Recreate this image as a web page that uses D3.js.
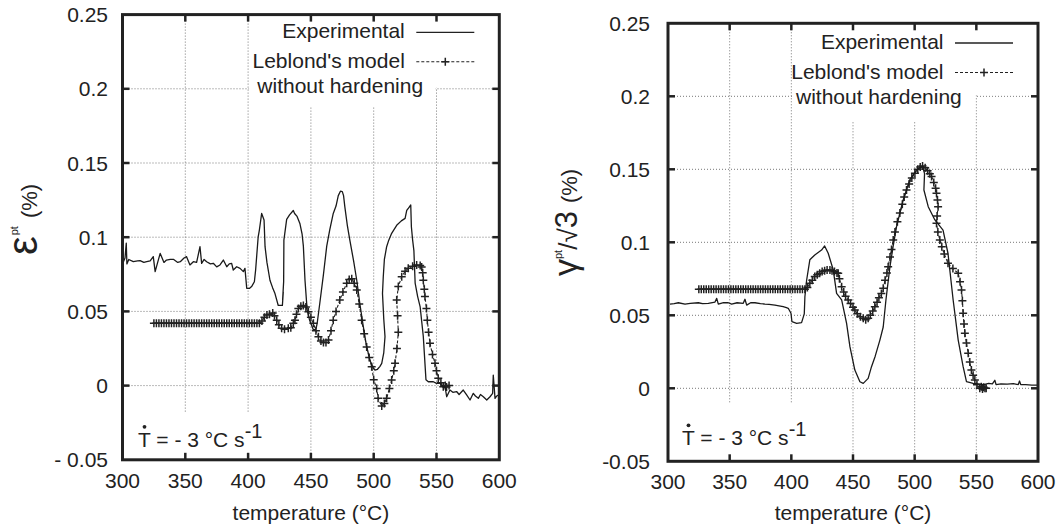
<!DOCTYPE html>
<html>
<head>
<meta charset="utf-8">
<script src="https://cdn.jsdelivr.net/npm/d3@7"></script>
<style>
  body { margin: 0; background: #fff; }
  svg text { font-family: "Liberation Sans", Arial, Helvetica, sans-serif; fill: #222; }
  .grid line { stroke: #777; stroke-width: 1; stroke-dasharray: 1,2; }
</style>
</head>
<body>
<svg id="chart" width="1062" height="529"></svg>
<script>
const xTicks = [300, 350, 400, 450, 500, 550, 600];
const yTicks = [-0.05, 0, 0.05, 0.1, 0.15, 0.2, 0.25];
const leftYLabels = ["- 0.05", "0", "0.05", "0.1", "0.15", "0.2", "0.25"];
const rightYLabels = ["-0.05", "0", "0.05", "0.1", "0.15", "0.2", "0.25"];
const legendLabels = ["Experimental", "Leblond's model", "without hardening"];
const xTitle = "temperature (\u00B0C)";

// [temperature, value]
const leftExperimental = [
  [300.5,0.083],[302,0.086],[303,0.096],[303.5,0.082],[305,0.085],[308.6,0.0835],[312,0.084],[314,0.0842],
  [317,0.083],[319.3,0.0835],[322,0.084],[324.5,0.0869],[326,0.0768],[328,0.083],[330,0.0891],[333,0.083],
  [335,0.0846],[338,0.085],[340.5,0.0851],[344,0.083],[346,0.0835],[349,0.086],[351,0.0869],[353.7,0.0813],
  [356.4,0.0835],[359,0.083],[361.7,0.0936],[363,0.0824],[365,0.085],[367,0.0835],[370,0.082],[372.3,0.0824],
  [375,0.08],[377.6,0.0813],[380.3,0.0846],[383,0.0801],[385,0.082],[386.9,0.0824],[388.2,0.0779],[390.9,0.0801],
  [393.6,0.079],[396.2,0.0768],[397.5,0.079],[398.9,0.0656],[401,0.0655],[403,0.067],[405,0.07],[406,0.078],
  [408,0.1],[409,0.105],[410.8,0.116],[412.7,0.1116],[413.5,0.0936],[415,0.083],[417.4,0.071],[419.5,0.066],
  [421.4,0.062],[424,0.054],[427.3,0.054],[428,0.063],[427.5,0.058],[428.3,0.07],[428.5,0.098],[430.7,0.112],
  [433,0.115],[436,0.118],[437,0.116],[439,0.114],[441.3,0.109],[443,0.102],[444,0.094],[445.3,0.071],
  [447,0.051],[449,0.044],[452,0.0375],[454,0.038],[455,0.042],[457,0.055],[460,0.075],[462.6,0.094],
  [465,0.105],[467.8,0.116],[470,0.121],[471.8,0.128],[473.5,0.131],[475,0.1307],[476,0.128],[477,0.1206],
  [479,0.108],[481,0.098],[484,0.084],[486.5,0.071],[489,0.055],[491.7,0.04],[494,0.028],[497,0.017],
  [499.5,0.012],[501,0.0105],[503,0.011],[505,0.013],[506.4,0.015],[508,0.022],[509,0.033],[508,0.045],
  [507,0.062],[507.6,0.073],[508.5,0.085],[510.3,0.0936],[512,0.098],[514.3,0.1026],[518.3,0.108],[522,0.111],
  [525,0.1127],[526.3,0.118],[528,0.12],[529.5,0.1217],[530,0.107],[531,0.098],[532,0.091],[533,0.069],
  [535,0.06],[537,0.053],[539.5,0.033],[541.6,0.004],[543.5,0.0026],[547.5,0.0026],[550,0.0015],[552.8,0.0015],
  [555.4,-0.001],[556.8,-0.0007],[558.1,-0.0075],[560.7,-0.003],[563,-0.0045],[566,-0.004],[568,-0.006],[571.3,-0.003],
  [574,-0.0063],[576.7,-0.0097],[579.3,-0.0052],[581,-0.007],[583.3,-0.0086],[585,-0.006],[587.3,-0.0075],[590,-0.0097],
  [592.6,-0.0075],[594.7,-0.0052],[595.2,0.0071],[596.6,-0.0086],[598,-0.007],[600,-0.006]
];

const leftModel = [
  [325,0.042],[327,0.042],[329,0.042],[331,0.042],[333,0.042],[335,0.042],[337,0.042],[339,0.042],
  [341,0.042],[343,0.042],[345,0.042],[347,0.042],[349,0.042],[351,0.042],[353,0.042],[355,0.042],
  [357,0.042],[359,0.042],[361,0.042],[363,0.042],[365,0.042],[367,0.042],[369,0.042],[371,0.042],
  [373,0.042],[375,0.042],[377,0.042],[379,0.042],[381,0.042],[383,0.042],[385,0.042],[387,0.042],
  [389,0.042],[391,0.042],[393,0.042],[395,0.042],[397,0.042],[399,0.042],[401,0.042],[403,0.042],
  [405,0.042],[407,0.042],[409,0.042],[411,0.0435],[413,0.046],[415,0.0476],[417,0.048],[419.6,0.049],
  [421,0.047],[422.8,0.044],[424.5,0.041],[426.7,0.0386],[429,0.038],[432,0.0386],[434,0.039],[436,0.042],
  [437.3,0.044],[438.5,0.048],[440,0.052],[442,0.0535],[444,0.054],[446,0.053],[448,0.0498],[450,0.046],
  [452,0.042],[454,0.037],[456,0.033],[458,0.03],[460,0.029],[462,0.029],[464,0.0307],[466,0.037],
  [467.8,0.044],[470,0.05],[473,0.0577],[475.5,0.063],[478.5,0.069],[480.5,0.0715],[482.5,0.072],[484.5,0.069],
  [486.5,0.0644],[488.5,0.055],[490.4,0.044],[492.4,0.035],[494.4,0.026],[496.4,0.019],[498.4,0.0127],[500,0.004],
  [502.4,-0.002],[503.5,-0.0086],[506.4,-0.0137],[508.5,-0.012],[510.3,-0.0086],[512.5,-0.002],[514.3,0.0038],[516,0.01],
  [517,0.015],[518.5,0.025],[519.6,0.036],[519,0.047],[518.3,0.0577],[519.6,0.0667],[522.3,0.0734],[525,0.077],
  [527.5,0.079],[531,0.0805],[534.2,0.0813],[537,0.081],[538.2,0.08],[539,0.076],[539.5,0.071],[540.3,0.065],
  [540.8,0.06],[542,0.052],[542.7,0.044],[543.7,0.036],[544.8,0.0285],[546.8,0.021],[548.8,0.015],[550,0.01],
  [551.4,0.005],[553.5,0.002],[555.4,-0.0007],[557,0],[558,-0.001],[560,0]
];

const rightExperimental = [
  [301.6,0.0577],[305,0.058],[308.4,0.0586],[313.8,0.0577],[318,0.0582],[324.6,0.0586],[328,0.058],[332.7,0.0582],
  [338.1,0.0591],[339.5,0.0616],[340.8,0.0577],[345,0.0586],[348.9,0.0586],[351.6,0.0577],[356,0.0586],[361,0.0582],
  [362.4,0.061],[363.8,0.057],[367,0.0586],[370.5,0.0586],[375,0.058],[378.6,0.0577],[382,0.0575],[386.7,0.057],
  [390,0.0565],[393.4,0.0559],[396,0.0552],[397.5,0.0548],[399.7,0.0514],[400.5,0.0456],[404.3,0.0445],[408.3,0.045],
  [410.5,0.051],[411,0.0627],[412.4,0.074],[415,0.088],[419,0.0913],[424.5,0.0947],[427,0.0975],[429.9,0.0925],
  [434,0.081],[436.7,0.065],[440.8,0.0605],[444.8,0.0445],[447.5,0.0285],[451.5,0.0125],[455.6,0.0045],[458.3,0.0034],
  [462.3,0.0068],[465,0.0148],[468,0.022],[471.8,0.033],[474.5,0.042],[476.7,0.0605],[479.9,0.083],[482.5,0.097],
  [485.3,0.1107],[490.7,0.129],[496,0.1427],[501.5,0.1495],[506.4,0.1523],[508,0.147],[507.5,0.1358],[511,0.1244],
  [516.4,0.1153],[523,0.1084],[527,0.0925],[531.2,0.0605],[535.3,0.033],[539.3,0.0148],[542,0.0045],[547.4,0.0034],
  [552,0.003],[556,0.0025],[560,0.0034],[563,0.003],[565,0.0055],[566,0.0025],[570,0.003],[575,0.0028],
  [580,0.0032],[584,0.0025],[585,0.005],[586,0.0025],[590,0.0025],[595,0.0022],[600,0.0022]
];

const rightModel = [
  [325,0.0678],[327,0.0678],[329,0.0678],[331,0.0678],[333,0.0678],[335,0.0678],[337,0.0678],[339,0.0678],
  [341,0.0678],[343,0.0678],[345,0.0678],[347,0.0678],[349,0.0678],[351,0.0678],[353,0.0678],[355,0.0678],
  [357,0.0678],[359,0.0678],[361,0.0678],[363,0.0678],[365,0.0678],[367,0.0678],[369,0.0678],[371,0.0678],
  [373,0.0678],[375,0.0678],[377,0.0678],[379,0.0678],[381,0.0678],[383,0.0678],[385,0.0678],[387,0.0678],
  [389,0.0678],[391,0.0678],[393,0.0678],[395,0.0678],[397,0.0678],[399,0.0678],[401,0.0678],[403,0.0678],
  [405,0.0678],[407,0.0678],[409,0.0678],[411,0.0678],[413,0.069],[415,0.072],[417,0.074],[419,0.0765],
  [421,0.0778],[423,0.0788],[425,0.08],[427,0.0805],[429,0.081],[431.3,0.081],[433,0.0805],[435,0.08],
  [437,0.079],[438,0.0788],[439,0.075],[440.8,0.0696],[442.5,0.066],[444,0.063],[446.1,0.0605],[448,0.058],
  [450,0.0555],[451.5,0.0536],[453.5,0.051],[456,0.049],[458.3,0.048],[460.3,0.047],[462.3,0.048],[464,0.05],
  [466,0.053],[467.7,0.0559],[469.5,0.059],[471,0.062],[473,0.065],[474.5,0.0685],[476,0.074],[477.5,0.079],
  [478.5,0.0833],[480,0.09],[481.2,0.095],[482.6,0.1016],[484,0.107],[486,0.114],[488,0.12],[490,0.126],
  [491.5,0.131],[493.4,0.1358],[495.5,0.14],[497.7,0.144],[500.2,0.1473],[502.5,0.15],[504.5,0.1515],[506.4,0.1523],
  [508.5,0.151],[510.5,0.149],[512.3,0.147],[513.7,0.145],[515.5,0.141],[517,0.137],[517.7,0.1336],[518.5,0.129],
  [519,0.1244],[518.2,0.118],[517.7,0.113],[518.8,0.107],[520.4,0.1016],[522,0.097],[524,0.092],[527,0.0856],
  [531,0.082],[535.3,0.0788],[536.8,0.073],[538,0.0673],[538.7,0.06],[539.3,0.0514],[540,0.044],[540.7,0.0377],
  [542,0.031],[543.4,0.024],[544.7,0.018],[546,0.0125],[547.4,0.009],[548.8,0.0057],[550.5,0.0025],[552.8,0],
  [554,0.001],[555,-0.0005],[556,0.0008],[557,0],[558,0]
];

const svg = d3.select("#chart");

function plusPath(s) {
  return `M${-s},0H${s}M0,${-s}V${s}`;
}

function drawPanel(p) {
  const x = d3.scaleLinear().domain([300, 600]).range([p.left, p.right]);
  const y = d3.scaleLinear().domain([-0.05, 0.25]).range([p.bottom, p.top]);
  const g = svg.append("g");
  const clipId = "clip" + p.id;

  g.append("clipPath").attr("id", clipId)
    .append("rect")
    .attr("x", p.left).attr("y", p.top)
    .attr("width", p.right - p.left).attr("height", p.bottom - p.top);

  // grid
  const grid = g.append("g").attr("class", "grid");
  grid.selectAll("line.v")
    .data(xTicks.slice(1, -1))
    .enter().append("line")
    .attr("x1", d => x(d)).attr("x2", d => x(d))
    .attr("y1", p.top).attr("y2", p.bottom);
  grid.selectAll("line.h")
    .data(yTicks.slice(1, -1))
    .enter().append("line")
    .attr("x1", p.left).attr("x2", p.right)
    .attr("y1", d => y(d)).attr("y2", d => y(d));

  // white boxes behind key and rate label (gnuplot style)
  g.append("rect")
    .attr("x", x(400) + 1).attr("y", p.top)
    .attr("width", p.right - x(400) - 1).attr("height", y(0.2) - p.top - 1)
    .attr("fill", "#fff");
  g.append("rect")
    .attr("x", x(400) + 1).attr("y", y(0.2) - 2)
    .attr("width", x(550) - x(400) - 2).attr("height", p.keyBottom - y(0.2) + 2)
    .attr("fill", "#fff");
  g.append("rect")
    .attr("x", p.left).attr("y", p.labelTop)
    .attr("width", p.labelWidth).attr("height", p.bottom - p.labelTop)
    .attr("fill", "#fff");

  const line = d3.line().x(d => x(d[0])).y(d => y(d[1]));

  const curves = g.append("g").attr("clip-path", `url(#${clipId})`);

  curves.append("path")
    .datum(p.model)
    .attr("d", line)
    .attr("fill", "none")
    .attr("stroke", "#222")
    .attr("stroke-width", 1.1)
    .attr("stroke-dasharray", "3,2");

  curves.selectAll("path.mk")
    .data(p.model)
    .enter().append("path")
    .attr("class", "mk")
    .attr("transform", d => `translate(${x(d[0])},${y(d[1])})`)
    .attr("d", plusPath(4))
    .attr("stroke", "#222")
    .attr("stroke-width", 1.5)
    .attr("fill", "none");

  curves.append("path")
    .datum(p.experimental)
    .attr("d", line)
    .attr("fill", "none")
    .attr("stroke", "#1a1a1a")
    .attr("stroke-width", 1.3)
    .attr("stroke-linejoin", "round");

  // frame and inward ticks
  const tickLen = 7;
  const ticks = g.append("g").attr("stroke", "#222").attr("stroke-width", 2.5);
  xTicks.slice(1, -1).forEach(t => {
    ticks.append("line").attr("x1", x(t)).attr("x2", x(t)).attr("y1", p.bottom).attr("y2", p.bottom - tickLen);
    ticks.append("line").attr("x1", x(t)).attr("x2", x(t)).attr("y1", p.top).attr("y2", p.top + tickLen);
  });
  yTicks.slice(1, -1).forEach(t => {
    ticks.append("line").attr("x1", p.left).attr("x2", p.left + tickLen).attr("y1", y(t)).attr("y2", y(t));
    ticks.append("line").attr("x1", p.right).attr("x2", p.right - tickLen).attr("y1", y(t)).attr("y2", y(t));
  });
  g.append("rect")
    .attr("x", p.left).attr("y", p.top)
    .attr("width", p.right - p.left).attr("height", p.bottom - p.top)
    .attr("fill", "none").attr("stroke", "#222").attr("stroke-width", 3);

  // tick labels
  g.selectAll("text.xt")
    .data(xTicks)
    .enter().append("text")
    .attr("x", d => x(d))
    .attr("y", p.bottom + 28)
    .attr("text-anchor", "middle")
    .style("font-size", "21px")
    .text(d => d);
  g.selectAll("text.yt")
    .data(yTicks)
    .enter().append("text")
    .attr("x", p.yLabelX)
    .attr("y", d => y(d) + 7.5)
    .attr("text-anchor", "end")
    .style("font-size", "21px")
    .text((d, i) => p.yLabels[i]);

  // key
  const kr = p.right - 94.5;
  g.append("text").attr("x", kr).attr("y", p.top + p.keyTop)
    .attr("text-anchor", "end").style("font-size", "21px").text(legendLabels[0]);
  g.append("line")
    .attr("x1", p.right - 83).attr("x2", p.right - 25)
    .attr("y1", p.top + p.keyTop - 6).attr("y2", p.top + p.keyTop - 6)
    .attr("stroke", "#222").attr("stroke-width", 1.3);
  g.append("text").attr("x", kr).attr("y", p.top + p.keyTop + 29.5)
    .attr("text-anchor", "end").style("font-size", "21px").text(legendLabels[1]);
  g.append("line")
    .attr("x1", p.right - 83).attr("x2", p.right - 25)
    .attr("y1", p.top + p.keyTop + 23.5).attr("y2", p.top + p.keyTop + 23.5)
    .attr("stroke", "#222").attr("stroke-width", 1.1).attr("stroke-dasharray", "3,2");
  g.append("path")
    .attr("transform", `translate(${p.right - 54},${p.top + p.keyTop + 23.5})`)
    .attr("d", plusPath(4)).attr("stroke", "#222").attr("stroke-width", 1.5);
  g.append("text").attr("x", p.right - 242).attr("y", p.top + p.keyTop + 54.5)
    .attr("text-anchor", "start").style("font-size", "21px").text(legendLabels[2]);

  // rate label
  const lab = g.append("text")
    .attr("x", p.left + p.labelX).attr("y", p.bottom - p.labelBase)
    .style("font-size", "21px");
  lab.append("tspan").text("T = - 3 \u00B0C s");
  lab.append("tspan").attr("dy", -9).style("font-size", "20px").text("-1");
  g.append("circle")
    .attr("cx", p.left + p.labelX + 6.5).attr("cy", p.bottom - p.labelBase - 20)
    .attr("r", 1.9).attr("fill", "#222");

  // axis titles
  g.append("text")
    .attr("x", (p.left + p.right) / 2).attr("y", 520)
    .attr("text-anchor", "middle").style("font-size", "21px")
    .text(xTitle);

  const yt = g.append("text")
    .attr("transform", `translate(${p.yTitleX},${p.yTitleY}) rotate(-90)`);
  p.yTitle(yt);
}

drawPanel({
  id: "L", left: 122.5, right: 499.3, top: 14.6, bottom: 459.8,
  experimental: leftExperimental, model: leftModel, yLabels: leftYLabels,
  yLabelX: 108, keyTop: 23.7, keyBottom: 106,
  labelTop: 413, labelWidth: 165, labelX: 15.5, labelBase: 13,
  yTitleX: 37, yTitleY: 255,
  yTitle: t => {
    t.append("tspan").style("font-size", "42px").text("\u03B5");
    t.append("tspan").attr("dy", -19).attr("dx", 1).style("font-size", "11px").text("pt");
    t.append("tspan").attr("dy", 19).attr("dx", 8).style("font-size", "22px").text("(%)");
  }
});

drawPanel({
  id: "R", left: 668, right: 1038, top: 23.3, bottom: 461.3,
  experimental: rightExperimental, model: rightModel, yLabels: rightYLabels,
  yLabelX: 650, keyTop: 25.7, keyBottom: 121,
  labelTop: 403, labelWidth: 155, labelX: 14, labelBase: 16,
  yTitleX: 577, yTitleY: 276,
  yTitle: t => {
    t.append("tspan").style("font-size", "34px").text("\u03B3");
    t.append("tspan").attr("dy", -15).style("font-size", "11px").text("pt");
    t.append("tspan").attr("dy", 15).style("font-size", "26px").text("/\u221A");
    t.append("tspan").style("font-size", "31px").text("3");
    t.append("tspan").attr("dx", 8).style("font-size", "22px").text("(%)");
  }
});
</script>
</body>
</html>
